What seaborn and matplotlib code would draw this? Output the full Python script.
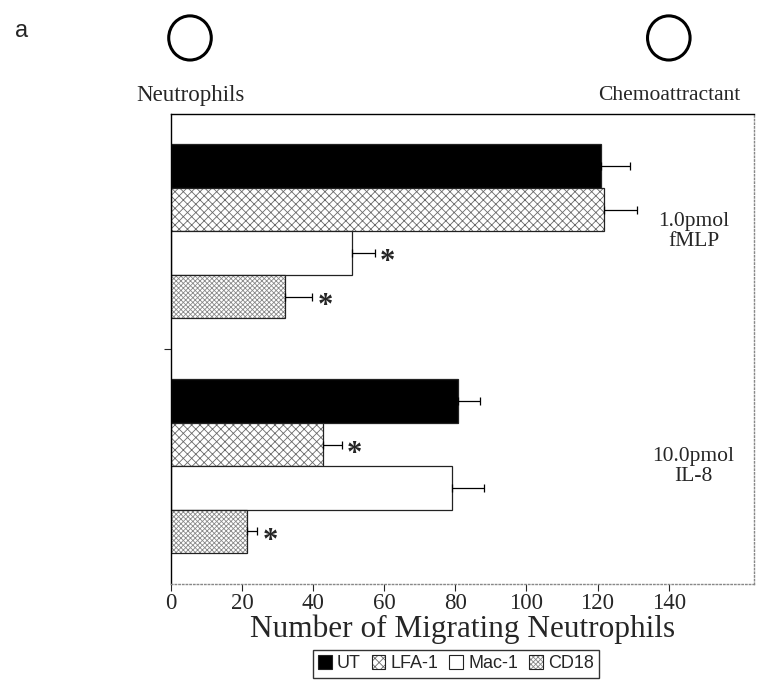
import pandas as pd
import numpy as np
import matplotlib
matplotlib.use("Agg")
import matplotlib.pyplot as plt
import matplotlib.colors as mcolors
from matplotlib.patches import Ellipse, Patch
import seaborn as sns

sns.set_style("ticks")
plt.rcParams['font.family'] = ['Liberation Serif', 'DejaVu Serif']
plt.rcParams['hatch.linewidth'] = 0.6

# data
stimuli = ["1.0pmol\nfMLP", "10.0pmol\nIL-8"]
antibodies = ["UT", "LFA-1", "Mac-1", "CD18"]
fmlp_mean = [121.0, 121.7, 51.0, 32.2]
fmlp_err = [8.2, 9.3, 6.3, 7.4]
il8_mean = [80.7, 42.7, 79.1, 21.3]
il8_err = [6.1, 5.3, 8.9, 2.9]
fmlp_sig = [False, False, True, True]
il8_sig = [False, True, False, True]

data = pd.DataFrame({
    "stimulus": [stimuli[0]] * 4 + [stimuli[1]] * 4,
    "antibody": antibodies * 2,
    "count": fmlp_mean + il8_mean,
    "err": fmlp_err + il8_err,
    "sig": fmlp_sig + il8_sig,
})

fills = {"UT": "black", "LFA-1": "white", "Mac-1": "white", "CD18": "white"}
hatches = {"UT": "", "LFA-1": "xxxx", "Mac-1": "", "CD18": "xxxxxxx"}
hatch_col = {"UT": "black", "LFA-1": "#6a6a6a", "Mac-1": "black", "CD18": "#8a8a8a"}

fig = plt.figure(figsize=(7.6, 6.9), dpi=100)
ax = fig.add_axes([0.225, 0.154, 0.767, 0.681])

sns.barplot(data=data, y="stimulus", x="count", hue="antibody", orient="h",
            palette=fills, width=0.74, gap=0, edgecolor="#222222", linewidth=0.9,
            legend=False, ax=ax)

# hatching, error bars and significance marks per bar
for ab, cont in zip(antibodies, ax.containers):
    sub = data[data["antibody"] == ab]
    ys = []
    for bar in cont:
        bar.set_hatch(hatches[ab])
        bar._hatch_color = mcolors.to_rgba(hatch_col[ab])
        ys.append(bar.get_y() + bar.get_height() / 2)
    ax.errorbar(sub["count"], ys, xerr=[np.zeros(len(sub)), sub["err"]],
                fmt="none", ecolor="black", elinewidth=0.9, capsize=3.2, capthick=0.9)
    for x, e, y, s in zip(sub["count"], sub["err"], ys, sub["sig"]):
        if s:
            ax.annotate("*", (x + e, y), xytext=(4, -7), textcoords="offset points",
                        ha="left", va="center", fontsize=22, fontweight="bold")

# group labels inside the frame on the right
for i, s in enumerate(stimuli):
    ax.text(147, i, s, ha="center", va="center", fontsize=15.5, linespacing=1.1)

ax.set_xlim(0, 164)
ax.set_ylim(1.5, -0.5)
ax.set_xticks(range(0, 141, 20))
ax.set_yticks([0.5])
ax.set_yticklabels([""])
ax.tick_params(axis="x", labelsize=16.5, length=5, width=0.8, direction="out", pad=2)
ax.tick_params(axis="y", length=5, width=0.8)
ax.set_ylabel("")
ax.set_xlabel("Number of Migrating Neutrophils", fontsize=22.5, labelpad=0)

for side in ["left", "top"]:
    ax.spines[side].set_visible(True)
    ax.spines[side].set_color("black")
    ax.spines[side].set_linewidth(1.0)
for side in ["right", "bottom"]:
    ax.spines[side].set_visible(True)
    ax.spines[side].set_color("#888888")
    ax.spines[side].set_linestyle(":")
    ax.spines[side].set_linewidth(1.0)

# legend below the axis
handles = []
for a in antibodies:
    h = Patch(facecolor=fills[a], edgecolor="#222222", hatch=hatches[a], linewidth=0.8)
    handles.append(h)
leg = fig.legend(handles, antibodies, loc="center", bbox_to_anchor=(0.6, 0.038), ncol=4,
                 frameon=True, fancybox=False, edgecolor="black",
                 prop={"family": "Liberation Sans", "size": 13},
                 handlelength=0.75, handleheight=0.75, handletextpad=0.3,
                 columnspacing=0.6, borderpad=0.3, borderaxespad=0)
leg.get_frame().set_linewidth(1.0)
for h, a in zip(leg.legend_handles, antibodies):
    h._hatch_color = mcolors.to_rgba(hatch_col[a])

# panel letter and schematic above the chart
fig.text(0.02, 0.955, "a", fontsize=17, family="Liberation Sans", va="center")
for cx, label, fs in [(0.25, "Neutrophils", 16.5), (0.88, "Chemoattractant", 15.5)]:
    fig.patches.append(Ellipse((cx, 0.945), 0.056, 0.064, transform=fig.transFigure,
                               facecolor="white", edgecolor="black", linewidth=2.2))
    fig.text(cx, 0.862, label, ha="center", va="center", fontsize=fs)

fig.savefig("out.png", dpi=100)
